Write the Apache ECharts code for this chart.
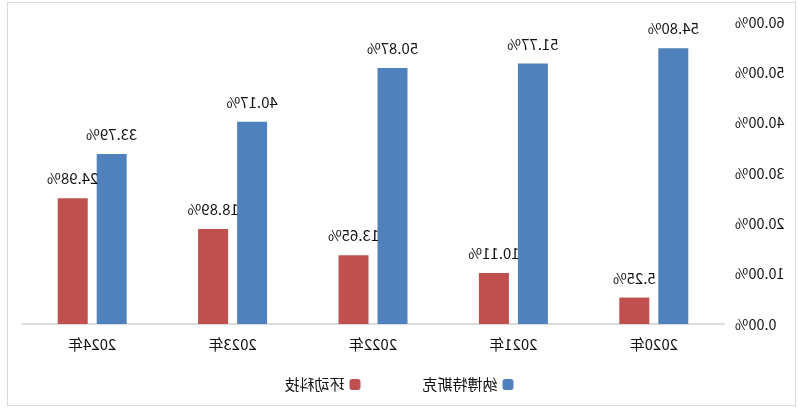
<!DOCTYPE html>
<html>
<head>
<meta charset="utf-8">
<script src="https://cdn.jsdelivr.net/npm/echarts@6/dist/echarts.min.js"></script>
<style>
  html, body { margin: 0; padding: 0; background: #fff; }
  #wrap { position: relative; width: 798px; height: 411px; transform: scaleX(-1); }
  #frame { position: absolute; left: 2px; top: 2px; width: 789px; height: 404px; border: 1px solid #d9d9d9; box-sizing: border-box; }
  #main { position: absolute; left: 0; top: 0; width: 798px; height: 411px; }
</style>
</head>
<body>
<div id="wrap">
  <div id="frame"></div>
  <div id="main"></div>
</div>
<script>
// the reference picture is a mirrored copy, so the whole chart is flipped by css
let years = ['2020年', '2021年', '2022年', '2023年', '2024年'];
let nabtesco = [54.80, 51.77, 50.87, 40.17, 33.79];
let huandong = [5.25, 10.11, 13.65, 18.89, 24.98];
let seriesNames = ['纳博特斯克', '环动科技'];

window.addEventListener('load', function () {
    let chart = echarts.init(document.getElementById('main'));
    let font = '"Noto Sans CJK SC", "Noto Sans", sans-serif';
    let pct = function (v) { return Number(v).toFixed(2) + '%'; };
    let label = {
        show: true,
        position: 'top',
        distance: 12,
        fontSize: 15,
        fontFamily: font,
        color: '#111',
        formatter: function (p) { return pct(p.value); }
    };
    let option = {
        animation: false,
        backgroundColor: 'transparent',
        textStyle: { fontFamily: font },
        legend: {
            data: seriesNames,
            bottom: 14,
            left: 'center',
            itemWidth: 11,
            itemHeight: 11,
            itemGap: 62,
            textStyle: { fontSize: 15, color: '#111', fontFamily: font }
        },
        grid: { left: 74, right: 22, top: 22, bottom: 87 },
        xAxis: {
            type: 'category',
            data: years,
            axisLine: { lineStyle: { color: '#d0d0d0', width: 1.5 } },
            axisTick: { show: false },
            axisLabel: { fontSize: 15, color: '#111', margin: 13, fontFamily: font }
        },
        yAxis: {
            type: 'value',
            min: 0,
            max: 60,
            interval: 10,
            splitLine: { show: false },
            axisLine: { show: false },
            axisTick: { show: false },
            axisLabel: { fontSize: 14.5, color: '#111', margin: 11, fontFamily: font, formatter: pct }
        },
        series: [
            {
                name: seriesNames[0],
                type: 'bar',
                data: nabtesco,
                barWidth: 30,
                barGap: '30%',
                itemStyle: { color: '#4f81bd' },
                label: label
            },
            {
                name: seriesNames[1],
                type: 'bar',
                data: huandong,
                barWidth: 30,
                itemStyle: { color: '#c0504d' },
                label: label
            }
        ]
    };
    chart.setOption(option);
});
</script>
</body>
</html>
